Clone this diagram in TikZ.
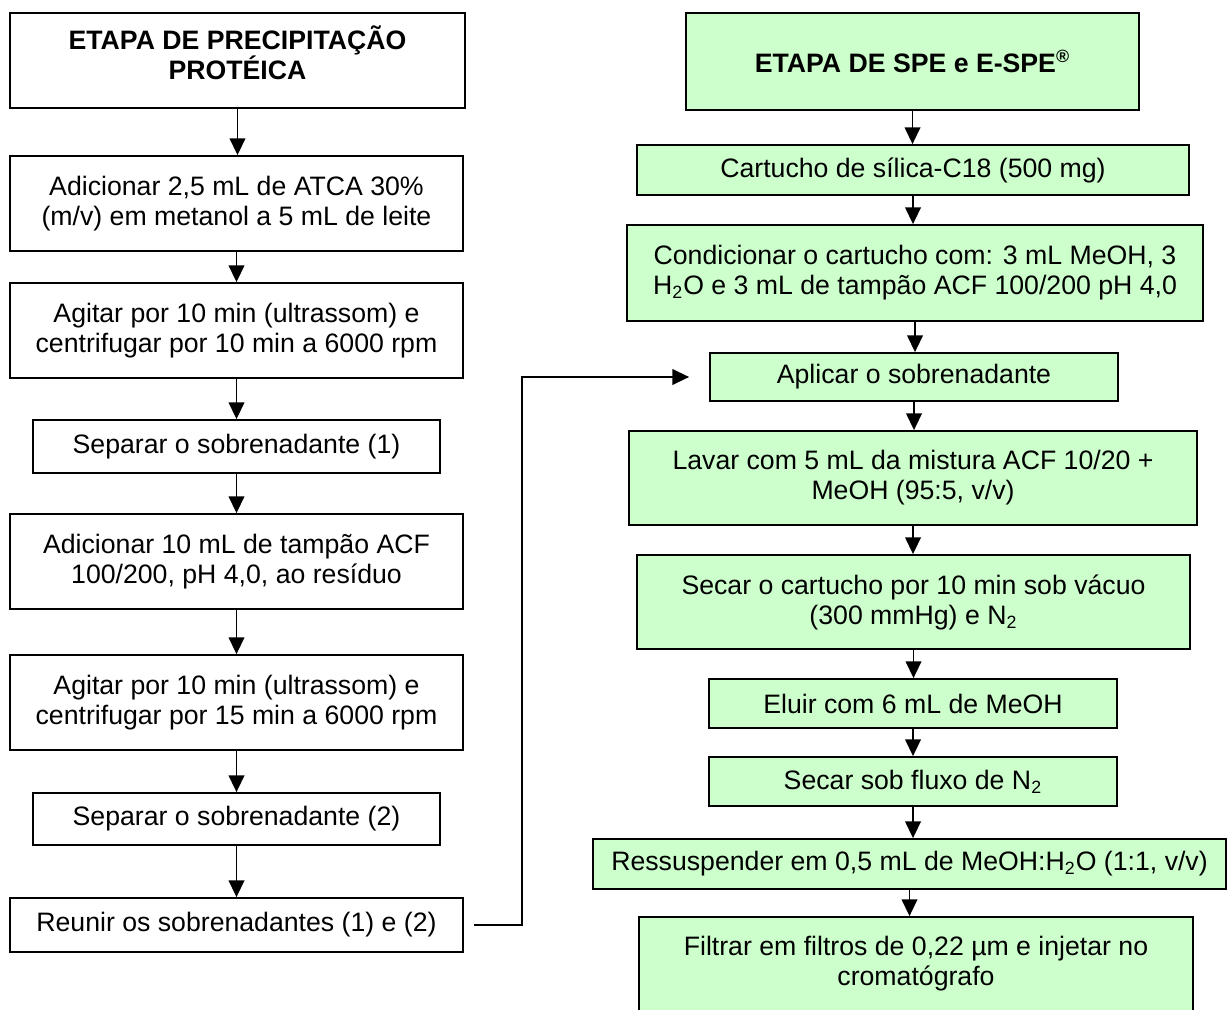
\documentclass[tikz,border=0pt]{standalone}
\usepackage{fontspec}
\setmainfont{Liberation Sans}
\usetikzlibrary{arrows.meta}
\definecolor{verdeclaro}{RGB}{204,255,204}
\tikzset{
  caixa/.style={draw, line width=0.8pt, fill=white, align=center, inner sep=0pt,
    font=\fontsize{12}{13.5}\selectfont},
  caixaverde/.style={caixa, fill=verdeclaro},
  tam/.style 2 args={minimum width=#1*0.45pt, minimum height=#2*0.45pt},
  seta/.style={-{Triangle[width=7pt,length=7.5pt]}, line width=0.8pt},
}
\begin{document}
\begin{tikzpicture}[x=0.45pt, y=-0.45pt]
  \useasboundingbox (0,0) rectangle (1227,1009);
  % coluna da esquerda
  \node[caixa, tam={455}{95}] (prec) at (237.5,60.5)
    {\bfseries ETAPA DE PRECIPITAÇÃO\\\bfseries PROTÉICA\\[-6.6pt]};
  \node[caixa, tam={453}{95}] (adic) at (236.5,203.5)
    {Adicionar 2,5 mL de ATCA 30\%\\(m/v) em metanol a 5 mL de leite};
  \node[caixa, tam={453}{95}] (agit1) at (236.5,330.5)
    {Agitar por 10 min (ultrassom) e\\centrifugar por 10 min a 6000 rpm};
  \node[caixa, tam={407}{53}] (sep1) at (236.5,446.5) {Separar o sobrenadante (1)};
  \node[caixa, tam={453}{95}] (tamp) at (236.5,561.5)
    {Adicionar 10 mL de tampão ACF\\100/200, pH 4,0, ao resíduo};
  \node[caixa, tam={453}{95}] (agit2) at (236.5,702.5)
    {Agitar por 10 min (ultrassom) e\\centrifugar por 15 min a 6000 rpm};
  \node[caixa, tam={407}{52}] (sep2) at (236.5,819) {Separar o sobrenadante (2)};
  \node[caixa, tam={453}{54}] (reun) at (236.5,925) {Reunir os sobrenadantes (1) e (2)};
  % coluna da direita
  \node[caixaverde, tam={453}{97}] (spe) at (912.5,61.5)
    {\bfseries ETAPA DE SPE e E-SPE\textsuperscript{®}};
  \node[caixaverde, tam={552}{50}] (cart) at (913,170) {Cartucho de sílica-C18 (500 mg)};
  \node[caixaverde, tam={576}{96}] (cond) at (915,273)
    {Condicionar o cartucho com: 3 mL MeOH, 3\\H\textsubscript{2}O e 3 mL de tampão ACF 100/200 pH 4,0};
  \node[caixaverde, tam={408}{48}] (apl) at (914,377) {Aplicar o sobrenadante};
  \node[caixaverde, tam={568}{94}] (lav) at (913,478)
    {Lavar com 5 mL da mistura ACF 10/20 +\\MeOH (95:5, v/v)};
  \node[caixaverde, tam={553}{94}] (sec1) at (913.5,602)
    {Secar o cartucho por 10 min sob vácuo\\(300 mmHg) e N\textsubscript{2}};
  \node[caixaverde, tam={408}{49}] (elu) at (913,703.5) {Eluir com 6 mL de MeOH};
  \node[caixaverde, tam={408}{49}] (sec2) at (913,781.5) {Secar sob fluxo de N\textsubscript{2}};
  \node[caixaverde, tam={633}{50}] (ress) at (909.5,864)
    {Ressuspender em 0,5 mL de MeOH:H\textsubscript{2}O (1:1, v/v)};
  \node[caixaverde, tam={554}{94}] (filt) at (916,964)
    {Filtrar em filtros de 0,22 µm e injetar no\\cromatógrafo};
  % setas
  \foreach \a/\b in {prec/adic, adic/agit1, agit1/sep1, sep1/tamp, tamp/agit2,
                     agit2/sep2, sep2/reun}
    \draw[seta] (\a.south) -- (\a.south |- \b.north);
  \foreach \a/\b in {spe/cart, cart/cond, cond/apl, apl/lav, lav/sec1, sec1/elu,
                     elu/sec2, sec2/ress, ress/filt}
    \draw[seta] (\a.south) -- (\a.south |- \b.north);
  \draw[seta, shorten <=4.5pt, shorten >=9pt] (reun.east) -- ++(58,0) |- (apl.west);
\end{tikzpicture}
\end{document}
